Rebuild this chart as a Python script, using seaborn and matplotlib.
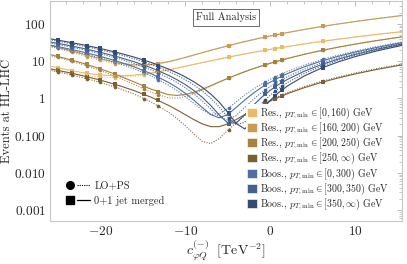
import matplotlib
matplotlib.use("Agg")
import matplotlib.pyplot as plt
import seaborn as sns
from matplotlib.patches import Patch
from matplotlib.lines import Line2D
from matplotlib.legend_handler import HandlerTuple
from matplotlib.ticker import FixedLocator, FixedFormatter, LogLocator, NullFormatter, MultipleLocator

# ---------------- data ----------------
c_grid = [-26, -24, -22, -20, -18, -16, -14, -12, -11, -10, -9, -8, -7, -6, -5, -4, -3, -2, -1, 0,
          1, 2, 4, 6, 8, 10, 12.5, 15.5]

res1_merged = [7.40, 5.93, 4.87, 4.23, 4.00, 4.19, 4.79, 5.80, 6.47, 7.23, 8.10, 9.08, 10.15, 11.34, 12.62, 14.01, 15.50, 17.10, 18.79, 20.60, 22.50, 24.51, 28.84, 33.59, 38.75, 44.32, 51.87, 61.79]
res1_lops = [6.41, 5.11, 4.21, 3.71, 3.61, 3.91, 4.61, 5.71, 6.41, 7.21, 8.11, 9.11, 10.21, 11.41, 12.71, 14.11, 15.61, 17.21, 18.91, 20.71, 22.61, 24.61, 28.91, 33.61, 38.71, 44.21, 51.65, 61.4]
res2_merged = [27.0, 20.5, 15.3, 11.5, 9.0, 7.9, 8.1, 9.6, 10.9, 12.5, 14.5, 16.8, 19.4, 22.3, 25.6, 29.3, 33.2, 37.5, 42.2, 47.1, 52.4, 58.1, 70.4, 84.0, 99.0, 115.3, 137.6, 167.2]
res2_lops = [25.1, 18.9, 14.1, 10.5, 8.25, 7.33, 7.72, 9.44, 10.8, 12.5, 14.5, 16.8, 19.5, 22.5, 25.8, 29.5, 33.5, 37.8, 42.5, 47.5, 52.8, 58.4, 70.7, 84.3, 99.2, 115.4, 137.6, 166.9]
res3_merged = [15.15, 11.68, 8.70, 6.22, 4.24, 2.75, 1.76, 1.26, 1.20, 1.26, 1.45, 1.76, 2.19, 2.75, 3.43, 4.24, 5.17, 6.22, 7.40, 8.70, 10.13, 11.68, 15.15, 19.12, 23.58, 28.54, 35.44, 44.74]
res3_lops = [14.18, 10.84, 7.98, 5.62, 3.74, 2.35, 1.45, 1.03, 1.01, 1.10, 1.32, 1.66, 2.13, 2.71, 3.42, 4.25, 5.20, 6.28, 7.47, 8.79, 10.23, 11.79, 15.28, 19.26, 23.72, 28.68, 35.55, 44.81]
res4_merged = [6.25, 5.07, 4.01, 3.09, 2.29, 1.61, 1.07, 0.654, 0.494, 0.366, 0.270, 0.206, 0.174, 0.174, 0.206, 0.270, 0.366, 0.494, 0.654, 0.846, 1.07, 1.33, 1.93, 2.67, 3.53, 4.53, 5.95, 7.91]
res4_lops = [5.72, 4.58, 3.56, 2.68, 1.93, 1.30, 0.80, 0.429, 0.291, 0.185, 0.112, 0.070, 0.061, 0.083, 0.137, 0.224, 0.342, 0.493, 0.675, 0.889, 1.14, 1.41, 2.07, 2.85, 3.76, 4.79, 6.27, 8.31]
boos1_merged = [27.1, 22.0, 17.45, 13.43, 9.95, 7.0, 4.59, 2.71, 1.98, 1.37, 0.90, 0.57, 0.367, 0.30, 0.367, 0.57, 0.90, 1.37, 1.98, 2.71, 3.58, 4.59, 7.0, 9.95, 13.43, 17.45, 23.23, 31.27]
boos1_lops = [25.2, 20.34, 16.01, 12.21, 8.94, 6.19, 3.97, 2.28, 1.64, 1.12, 0.74, 0.49, 0.371, 0.384, 0.529, 0.806, 1.22, 1.76, 2.43, 3.24, 4.17, 5.24, 7.78, 10.84, 14.43, 18.55, 24.44, 32.6]
boos2_merged = [33.0, 27.2, 21.94, 17.26, 13.14, 9.59, 6.61, 4.19, 3.20, 2.35, 1.64, 1.07, 0.644, 0.360, 0.218, 0.218, 0.360, 0.644, 1.07, 1.64, 2.35, 3.20, 5.33, 8.03, 11.29, 15.13, 20.72, 28.6]
boos2_lops = [30.84, 25.26, 20.25, 15.80, 11.91, 8.58, 5.81, 3.59, 2.70, 1.94, 1.33, 0.849, 0.513, 0.317, 0.261, 0.345, 0.569, 0.933, 1.44, 2.08, 2.87, 3.79, 6.06, 8.89, 12.27, 16.22, 21.94, 29.97]
boos3_merged = [40.0, 33.35, 27.3, 21.86, 17.02, 12.8, 9.18, 6.17, 4.89, 3.77, 2.80, 1.98, 1.31, 0.789, 0.424, 0.212, 0.151, 0.242, 0.485, 0.880, 1.43, 2.13, 3.98, 6.44, 9.51, 13.19, 18.65, 26.44]
boos3_lops = [37.49, 31.1, 25.31, 20.12, 15.53, 11.54, 8.15, 5.36, 4.19, 3.17, 2.30, 1.58, 1.01, 0.587, 0.317, 0.197, 0.227, 0.407, 0.737, 1.22, 1.85, 2.63, 4.64, 7.25, 10.46, 14.27, 19.87, 27.84]

c_pts = [-25, -23.3, -21.6, -20, -18.2, -14.8, -13.2, -4.9, -0.6, 0.6, 1.4, 6.2]
res1_pts_merged = [6.6, 5.5, 4.7, 4.2, 4.0, 4.5, 5.1, 12.8, 19.5, 21.7, 23.3, 34.1]
res1_pts_lops = [5.7, 4.75, 4.1, 3.7, 3.6, 4.3, 5.0, 12.9, 19.6, 21.8, 23.4, 34.1]
res2_pts_merged = [23.6, 18.6, 14.5, 11.5, 9.2, 7.8, 8.5, 26.0, 44.1, 50.3, 54.7, 85.5]
res2_pts_lops = [21.9, 17.1, 13.2, 10.5, 8.4, 7.4, 8.25, 26.2, 44.4, 50.6, 55.0, 85.7]
res3_pts_merged = [13.4, 10.6, 8.2, 6.2, 4.4, 2.1, 1.5, 3.5, 7.9, 9.5, 10.7, 19.5]
res3_pts_lops = [12.5, 9.8, 7.5, 5.6, 3.9, 1.75, 1.2, 3.5, 8.0, 9.6, 10.8, 19.7]
res4_pts_merged = [5.6, 4.7, 3.8, 3.1, 2.4, 1.27, 0.89, 0.21, 0.73, 0.98, 1.17, 2.75]
res4_pts_lops = [5.1, 4.2, 3.4, 2.7, 2.0, 0.98, 0.64, 0.145, 0.76, 1.03, 1.24, 2.93]
boos1_pts_merged = [24.5, 20.4, 16.6, 13.4, 10.3, 5.5, 3.8, 0.38, 2.25, 3.2, 4.0, 10.3]
boos1_pts_lops = [22.7, 18.8, 15.2, 12.2, 9.2, 4.8, 3.2, 0.55, 2.7, 3.8, 4.6, 11.2]
boos2_pts_merged = [30.0, 25.3, 21.0, 17.3, 13.5, 7.7, 5.6, 0.21, 1.28, 2.05, 2.67, 8.3]
boos2_pts_lops = [28.0, 23.4, 19.3, 15.8, 12.3, 6.85, 4.85, 0.26, 1.68, 2.53, 3.2, 9.2]
boos3_pts_merged = [36.6, 31.2, 26.2, 21.9, 17.5, 10.55, 7.9, 0.40, 0.625, 1.19, 1.69, 6.7]
boos3_pts_lops = [34.2, 29.0, 24.2, 20.1, 16.0, 9.4, 6.96, 0.30, 0.91, 1.58, 2.14, 7.54]

series_labels = [
    r"Res., $p_{T,\mathrm{min}} \in [0, 160)$ GeV",
    r"Res., $p_{T,\mathrm{min}} \in [160, 200)$ GeV",
    r"Res., $p_{T,\mathrm{min}} \in [200, 250)$ GeV",
    r"Res., $p_{T,\mathrm{min}} \in [250, \infty)$ GeV",
    r"Boos., $p_{T,\mathrm{min}} \in [0, 300)$ GeV",
    r"Boos., $p_{T,\mathrm{min}} \in [300, 350)$ GeV",
    r"Boos., $p_{T,\mathrm{min}} \in [350, \infty)$ GeV",
]
series_colors = ["#EBBA69", "#C99B57", "#A7813F", "#7B5F33", "#51709F", "#43608E", "#344B72"]

y_ticks = [0.001, 0.01, 0.1, 1, 10, 100]
y_ticklabels = [r"$0.001$", r"$0.010$", r"$0.100$", r"$1$", r"$10$", r"$100$"]
x_ticks = [-20, -10, 0, 10]
x_ticklabels = [r"$-20$", r"$-10$", r"$0$", r"$10$"]

# ---------------- style ----------------
sns.set_theme(style="white")
plt.rcParams["font.family"] = ["cmr10", "DejaVu Serif"]
plt.rcParams["mathtext.fontset"] = "cm"
plt.rcParams["axes.unicode_minus"] = False
plt.rcParams["axes.formatter.use_mathtext"] = True

fig = plt.figure(figsize=(4.07, 2.64), dpi=100)
ax = fig.add_axes([50 / 407, 43 / 264, 352 / 407, 220 / 264])

curves = [
    (res1_merged, res1_lops, res1_pts_merged, res1_pts_lops),
    (res2_merged, res2_lops, res2_pts_merged, res2_pts_lops),
    (res3_merged, res3_lops, res3_pts_merged, res3_pts_lops),
    (res4_merged, res4_lops, res4_pts_merged, res4_pts_lops),
    (boos1_merged, boos1_lops, boos1_pts_merged, boos1_pts_lops),
    (boos2_merged, boos2_lops, boos2_pts_merged, boos2_pts_lops),
    (boos3_merged, boos3_lops, boos3_pts_merged, boos3_pts_lops),
]

for (merged, lops, pm, pl), col in zip(curves, series_colors):
    sns.lineplot(x=c_grid, y=lops, ax=ax, color=col, lw=0.8, linestyle=(0, (1, 1.3)), alpha=0.9)
    sns.lineplot(x=c_grid, y=merged, ax=ax, color=col, lw=0.8)
    sns.scatterplot(x=c_pts, y=pl, ax=ax, color=col, marker="o", s=7, linewidth=0)
    sns.scatterplot(x=c_pts, y=pm, ax=ax, color=col, marker="s", s=7, linewidth=0)

ax.set_yscale("log")
ax.set_xlim(-25.9, 15.5)
ax.set_ylim(5.1e-4, 410)

ax.yaxis.set_major_locator(FixedLocator(y_ticks))
ax.yaxis.set_major_formatter(FixedFormatter(y_ticklabels))
ax.yaxis.set_minor_locator(LogLocator(base=10, subs=range(2, 10)))
ax.yaxis.set_minor_formatter(NullFormatter())
ax.xaxis.set_major_locator(FixedLocator(x_ticks))
ax.xaxis.set_major_formatter(FixedFormatter(x_ticklabels))
ax.xaxis.set_minor_locator(MultipleLocator(2))

for sp in ax.spines.values():
    sp.set_color("#c8c8c8")
    sp.set_linewidth(0.8)
ax.tick_params(which="both", direction="in", color="#b0b0b0", top=True, right=True,
               labelsize=9.6, pad=3)
ax.tick_params(which="major", length=3.5, width=0.6)
ax.tick_params(which="minor", length=2, width=0.5)

ax.set_ylabel("Events at HL-LHC", fontsize=9)
ax.yaxis.set_label_coords((13 - 50) / 352, 0.5)
ax.set_xlabel(r"$c_{\varphi Q}^{(-)}\ \ [\mathrm{TeV}^{-2}]$", fontsize=10, labelpad=0)

ax.text(0.5, 0.925, "Full Analysis", transform=ax.transAxes, ha="center", va="center",
        fontsize=7.5, bbox=dict(boxstyle="square,pad=0.3", fc="white", ec="#555555", lw=0.6))

# series legend (colour patches)
patch_handles = [Patch(facecolor=c, edgecolor="white", linewidth=0.4) for c in series_colors]
leg1 = ax.legend(patch_handles, series_labels, loc="lower left",
                 bbox_to_anchor=((246 - 50) / 352, 0.035), fontsize=7.1,
                 frameon=True, facecolor="white", edgecolor="none", framealpha=1,
                 borderpad=0.1, borderaxespad=0, handlelength=1.05, handleheight=1.0,
                 handletextpad=0.3, labelspacing=0.0)
ax.add_artist(leg1)

# marker legend
h_lo = (Line2D([], [], marker="o", color="black", ls="none", ms=5.5),
        Line2D([], [], color="black", ls=(0, (1, 1)), lw=0.8))
h_mg = (Line2D([], [], marker="s", color="black", ls="none", ms=5.5),
        Line2D([], [], color="black", ls="-", lw=0.9))
leg2 = ax.legend([h_lo, h_mg], ["LO+PS", "0+1 jet merged"], loc="upper left",
                 bbox_to_anchor=(0.025, (221 - 177) / 220), fontsize=7.5, frameon=False,
                 handler_map={tuple: HandlerTuple(ndivide=None, pad=0)},
                 handlelength=2.6, handletextpad=0.4, labelspacing=0.5, borderaxespad=0)

fig.savefig("out.png", dpi=100)
